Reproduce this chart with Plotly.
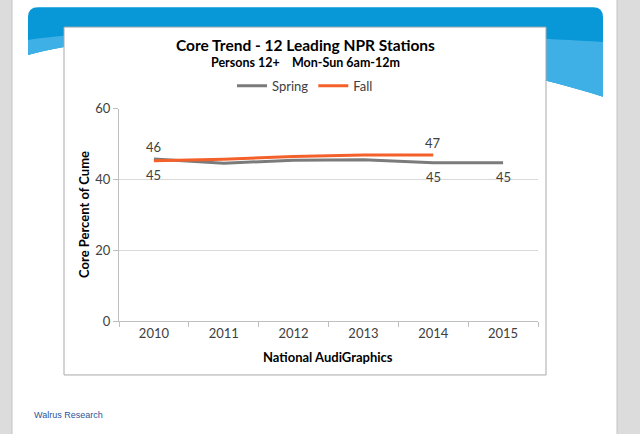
import plotly.graph_objects as go

# ---- data ----
years = ["2010", "2011", "2012", "2013", "2014", "2015"]
spring = [45.8, 44.6, 45.4, 45.6, 44.7, 44.7]
fall = [45.3, 45.7, 46.5, 46.9, 46.9, None]
# which points carry a data label, and on which side of the line
spring_labels = {0: "above", 4: "below", 5: "below"}
fall_labels = {0: "below", 4: "above"}
y_ticks = [0, 20, 40, 60]

W, H = 640, 434
FONT = "Lato"

# vertical calibration of the capture (observed: shown_y = OFF + SC * page_y)
OFF, SC = 5.8, 0.969


def px(x):
    return x / W


def py(y):
    yy = (y - OFF) / SC
    return 1 - yy / H


fig = go.Figure()
fig.add_trace(go.Scatter(
    x=years, y=spring, name="Spring", mode="lines",
    line=dict(color="#7b7b7b", width=3),
))
fig.add_trace(go.Scatter(
    x=years, y=fall, name="Fall", mode="lines",
    line=dict(color="#f4602a", width=3),
))

blue_path = (
    f"M {px(28)},{py(53)} "
    f"C {px(150)},{py(18)} {px(430)},{py(40)} {px(603)},{py(95)} "
    f"L {px(603)},{py(15)} Q {px(603)},{py(5)} {px(593)},{py(5)} "
    f"L {px(38)},{py(5)} Q {px(28)},{py(5)} {px(28)},{py(15)} Z"
)
light_path = (
    f"M {px(28)},{py(53)} "
    f"C {px(150)},{py(18)} {px(430)},{py(40)} {px(603)},{py(95)} "
    f"L {px(603)},{py(40)} "
    f"C {px(430)},{py(30)} {px(150)},{py(20)} {px(28)},{py(38)} Z"
)

shapes = [
    dict(type="rect", xref="paper", yref="paper", x0=0, x1=px(12), y0=-0.1, y1=1.1,
         fillcolor="#dcdcdc", line=dict(width=0), layer="below"),
    dict(type="rect", xref="paper", yref="paper", x0=px(617), x1=1, y0=-0.1, y1=1.1,
         fillcolor="#dcdcdc", line=dict(width=0), layer="below"),
    dict(type="line", xref="paper", yref="paper", x0=px(12), x1=px(12), y0=-0.1, y1=1.1,
         line=dict(color="#c4c4c4", width=1), layer="below"),
    dict(type="line", xref="paper", yref="paper", x0=px(617), x1=px(617), y0=-0.1, y1=1.1,
         line=dict(color="#c4c4c4", width=1), layer="below"),
    dict(type="path", xref="paper", yref="paper", path=blue_path,
         fillcolor="#0898d8", line=dict(width=0), layer="below"),
    dict(type="path", xref="paper", yref="paper", path=light_path,
         fillcolor="#3fb0e6", line=dict(width=0), layer="below"),
    dict(type="rect", xref="paper", yref="paper", x0=px(64), x1=px(546), y0=py(375), y1=py(25),
         fillcolor="white", line=dict(color="#a8a8a8", width=1), layer="below"),
]

annotations = [
    dict(text="<b>Core Trend - 12 Leading NPR Stations</b>", x=px(305), y=py(43),
         xref="paper", yref="paper", showarrow=False, xanchor="center", yanchor="middle",
         font=dict(family=FONT, size=15.5, color="#000000")),
    dict(text="<b>Persons 12+\u00a0\u00a0\u00a0\u00a0Mon-Sun 6am-12m</b>", x=px(305), y=py(61),
         xref="paper", yref="paper", showarrow=False, xanchor="center", yanchor="middle",
         font=dict(family=FONT, size=12.5, color="#000000")),
    dict(text="<b>National AudiGraphics</b>", x=px(328), y=py(357),
         xref="paper", yref="paper", showarrow=False, xanchor="center", yanchor="middle",
         font=dict(family=FONT, size=13, color="#000000")),
    dict(text="<b>Core Percent of Cume</b>", x=px(84), y=py(214), textangle=-90,
         xref="paper", yref="paper", showarrow=False, xanchor="center", yanchor="middle",
         font=dict(family=FONT, size=13, color="#000000")),
    dict(text="Walrus Research", x=px(32), y=py(415),
         xref="paper", yref="paper", showarrow=False, xanchor="left", yanchor="middle",
         font=dict(family="Liberation Sans", size=9, color="#2a5598")),
]

# data labels, placed at the data points through the axes (x = category index)
for vals, labels in ((spring, spring_labels), (fall, fall_labels)):
    for i, side in labels.items():
        annotations.append(dict(
            x=i, y=vals[i], xref="x", yref="y", text=f"{vals[i]:.0f}",
            showarrow=False, xanchor="center", yanchor="middle",
            yshift=(12 if side == "above" else -14) / SC,
            font=dict(family=FONT, size=13, color="#404040"),
        ))

fig.update_layout(
    width=W, height=H, autosize=False,
    margin=dict(l=0, r=0, t=0, b=0),
    paper_bgcolor="white", plot_bgcolor="rgba(0,0,0,0)",
    font=dict(family=FONT, size=13, color="#404040"),
    shapes=shapes, annotations=annotations,
    showlegend=True,
    legend=dict(orientation="h", x=px(305), y=py(84), xanchor="center", yanchor="middle",
                bgcolor="rgba(0,0,0,0)", font=dict(family=FONT, size=13, color="#404040"),
                itemwidth=30, tracegroupgap=0),
    xaxis=dict(domain=[px(119), px(538)], type="category", range=[-0.5, 5.5],
               showline=True, linecolor="#bfbfbf", linewidth=1,
               ticks="outside", tickson="boundaries", ticklen=5, tickcolor="#bfbfbf",
               showgrid=False, tickfont=dict(family=FONT, size=13, color="#404040"),
               fixedrange=True),
    yaxis=dict(domain=[py(321), py(107)], range=[0, 60], tickvals=y_ticks,
               showline=True, linecolor="#bfbfbf", linewidth=1,
               ticks="outside", ticklen=5, tickcolor="#bfbfbf",
               showgrid=True, gridcolor="#d9d9d9", gridwidth=1, zeroline=False,
               tickfont=dict(family=FONT, size=13, color="#404040"),
               fixedrange=True),
)

fig.write_html("out.html", config={"displayModeBar": False},
               post_script="document.body.style.margin='0';document.body.style.overflow='hidden';")
